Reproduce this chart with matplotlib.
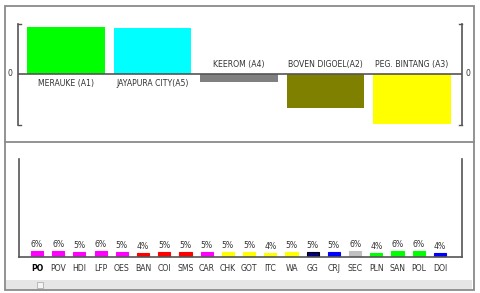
import matplotlib
matplotlib.use("Agg")
import matplotlib.pyplot as plt
from matplotlib.lines import Line2D
from matplotlib.patches import Rectangle

# top chart: regency scores (arbitrary units, sign matters)
regions = ["MERAUKE (A1)", "JAYAPURA CITY(A5)", "KEEROM (A4)",
           "BOVEN DIGOEL(A2)", "PEG. BINTANG (A3)"]
region_vals = [47, 46, -8, -34, -50]
region_colors = ["#00ff00", "#00ffff", "#808080", "#808000", "#ffff00"]

# bottom chart: shares per item (%)
items = ["PO", "POV", "HDI", "LFP", "OES", "BAN", "COI", "SMS", "CAR", "CHK",
         "GOT", "ITC", "WA", "GG", "CRJ", "SEC", "PLN", "SAN", "POL", "DOI"]
item_pct = [6, 6, 5, 6, 5, 4, 5, 5, 5, 5, 5, 4, 5, 5, 5, 6, 4, 6, 6, 4]
item_colors = ["#ff00ff"] * 5 + ["#ff0000"] * 3 + ["#ff00ff"] + ["#ffff00"] * 4 + \
              ["#000080", "#0000ff", "#c0c0c0", "#00ff00", "#00ff00", "#00ff00", "#0000ff"]

W, H = 480, 293
fig = plt.figure(figsize=(W / 100, H / 100), dpi=100)
fig.patch.set_facecolor("white")

def fx(px):
    return px / W

def fy(py):
    return 1 - py / H

axis_col = "#555555"
text_col = "#333333"
fs = 5.6
plt.rcParams["font.family"] = ["DejaVu Sans"]

# ---- top panel ----
ax1 = fig.add_axes([fx(18), fy(125), fx(462) - fx(18), fy(24) - fy(125)])
x1 = list(range(len(regions)))
ax1.bar(x1, region_vals, width=0.9, color=region_colors)
ax1.set_xlim(-0.555, 4.578)
ax1.set_ylim(-51, 50)
ax1.axhline(0, color=axis_col, lw=1.2)
for s in ["top", "bottom"]:
    ax1.spines[s].set_visible(False)
for s in ["left", "right"]:
    ax1.spines[s].set_color(axis_col)
    ax1.spines[s].set_linewidth(1.2)
ax1.set_xticks([])
ax1.set_yticks([])
for xa in (0, 1):
    d = 0.006 if xa == 0 else -0.006
    for ya in (0, 1):
        ax1.plot([xa, xa + d], [ya, ya], color=axis_col, lw=1,
                 transform=ax1.transAxes, clip_on=False)
ax1.text(-0.012, 0, "0", transform=ax1.get_yaxis_transform(), ha="right",
         va="center", fontsize=fs, color=text_col)
ax1.text(1.008, 0, "0", transform=ax1.get_yaxis_transform(), ha="left",
         va="center", fontsize=fs, color=text_col)
for x, v, lab in zip(x1, region_vals, regions):
    if v >= 0:
        ax1.text(x, -5, lab, ha="center", va="top", fontsize=fs, color=text_col)
    else:
        ax1.text(x, 5, lab, ha="center", va="bottom", fontsize=fs, color=text_col)

# ---- bottom panel ----
ax2 = fig.add_axes([fx(19), fy(257), fx(462) - fx(19), fy(159) - fy(257)])
x2 = list(range(len(items)))
edges = ["#000000" if c == "#000080" else c for c in item_colors]
ax2.bar(x2, item_pct, width=0.57, color=item_colors, edgecolor=edges, linewidth=0.8)
ax2.set_xlim(-0.85, 20.04)
ax2.set_ylim(0, 100)
ax2.spines["top"].set_visible(False)
for s in ["left", "right", "bottom"]:
    ax2.spines[s].set_color(axis_col)
    ax2.spines[s].set_linewidth(1.2)
ax2.set_yticks([])
ax2.set_xticks(x2)
ax2.set_xticklabels(items, fontsize=fs, color=text_col)
ax2.tick_params(axis="x", length=0, pad=5)
ax2.get_xticklabels()[0].set_fontweight("bold")
ax2.get_xticklabels()[0].set_color("#000000")
for x, v in zip(x2, item_pct):
    ax2.text(x, v + 2, f"{v}%", ha="center", va="bottom", fontsize=fs, color=text_col)

# ---- frame ----
fc = "#8a8a8a"
fig.add_artist(Rectangle((fx(5), fy(290)), fx(474) - fx(5), fy(6) - fy(290),
                         transform=fig.transFigure, fill=False, ec=fc, lw=1.3))
fig.add_artist(Line2D([fx(5), fx(474)], [fy(142), fy(142)],
                      transform=fig.transFigure, color=fc, lw=1.3))
fig.add_artist(Rectangle((fx(6), fy(289)), fx(472) - fx(6), fy(280) - fy(289),
                         transform=fig.transFigure, color="#e6e6e6", lw=0))
fig.add_artist(Rectangle((fx(37), fy(288)), fx(43) - fx(37), fy(282) - fy(288),
                         transform=fig.transFigure, fc="#f4f4f4", ec="#b0b0b0", lw=0.6))

fig.savefig("out.png", dpi=100)
